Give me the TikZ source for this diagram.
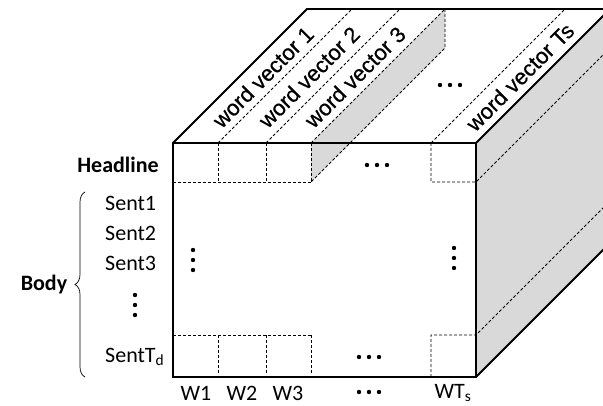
\documentclass[tikz,border=0pt]{standalone}
\usepackage{fontspec}
\setmainfont{Carlito}
\newfontfamily\arialfont[FakeBold=0.6]{Liberation Sans}
\usetikzlibrary{decorations.pathreplacing}
\tikzset{
  edge/.style={line width=1.8pt, line join=miter},
  cell/.style={dashed, dash pattern=on 3pt off 2pt, line width=0.8pt},
  shade/.style={fill=black!15},
  lbl/.style={font=\fontsize{22}{26}\selectfont, inner sep=0pt},
  head/.style={font=\fontsize{22}{26}\selectfont\bfseries, inner sep=0pt},
  vec/.style={font=\arialfont\fontsize{22}{26}\selectfont, rotate=45, inner sep=0pt}
}
\newcommand{\dotrow}[2]{\foreach \k in {-1,0,1} \fill (#1+10*\k,#2) circle (2.2);}
\newcommand{\dotcol}[2]{\foreach \k in {-1,0,1} \fill (#1,#2+10*\k) circle (2.2);}

\begin{document}
\begin{tikzpicture}[x=1pt, y=-1pt]
    \useasboundingbox (0,0) rectangle (603,406);
    % cube corners
    \coordinate (ftl) at (173,143);
    \coordinate (ftr) at (476,143);
    \coordinate (fbl) at (173,377);
    \coordinate (fbr) at (476,377);
    \coordinate (btl) at (307,9);
    \coordinate (btr) at (610,9);
    \coordinate (bbr) at (610,243);

    \begin{scope}
    \clip (0,0) rectangle (603,406);
    % faces
    \fill[shade] (ftr) -- (btr) -- (bbr) -- (fbr) -- cycle;
    \fill[white] (ftl) -- (btl) -- (btr) -- (ftr) -- cycle;
    \fill[white] (ftl) rectangle (fbr);
    \fill[shade] (311,143) -- (445,9) -- (445,48) -- (311,182) -- cycle;

    % word vector strips
    \foreach \x in {218,266,311,431}
      \draw[cell] (\x,143) -- (\x+134,9);
    \draw[cell] (445,9) -- (445,48) -- (311,182);

    % headline and last sentence cells
    \foreach \y in {143,335} {
      \foreach \x in {218,266,311}
        \draw[cell] (\x,\y) -- (\x,\y+39);
    }
    \draw[cell] (173,182) -- (311,182);
    \draw[cell] (173,335) -- (311,335);
    \draw[cell] (431,143) -- (431,182) -- (476,182) -- (610,48);
    \draw[cell] (431,377) -- (431,335) -- (476,335) -- (610,201);

    % outer edges
    \draw[edge] (ftl) -- (btl) -- (btr);
    \draw[edge] (ftr) -- (btr);
    \draw[edge] (fbr) -- (bbr);
    \draw[edge] (ftl) rectangle (fbr);
    \end{scope}

    % word vector labels
    \node[vec] (v1) at (263,77) {word vector 1};
    \node[vec] (v2) at (309,77) {word vector 2};
    \node[vec] (v3) at (355,77) {word vector 3};
    \node[vec] (vT) at (520,77) {word vector Ts};

    % dots
    \dotrow{450}{85}
    \dotrow{377}{165}
    \dotcol{193}{260}
    \dotcol{454}{258}
    \dotrow{369}{357}
    \dotrow{369}{392}
    \dotcol{135}{305}

    % row labels
    \node[head] (headline) at (118,165) {Headline};
    \node[lbl, anchor=west] (s1) at (105,203) {Sent1};
    \node[lbl, anchor=west] (s2) at (105,233) {Sent2};
    \node[lbl, anchor=west] (s3) at (105,263) {Sent3};
    \node[lbl, anchor=west] (sT) at (105,357) {SentT\textsubscript{d}};
    \draw[line width=0.7pt, decorate, decoration={brace, amplitude=10pt}] (85,377) -- (85,192);
    \node[head] (body) at (44,285) {Body};

    % column labels
    \node[lbl] (w1) at (196,393) {W1};
    \node[lbl] (w2) at (242,393) {W2};
    \node[lbl] (w3) at (288,393) {W3};
    \node[lbl] (wT) at (453,393) {WT\textsubscript{s}};
\end{tikzpicture}
\end{document}
